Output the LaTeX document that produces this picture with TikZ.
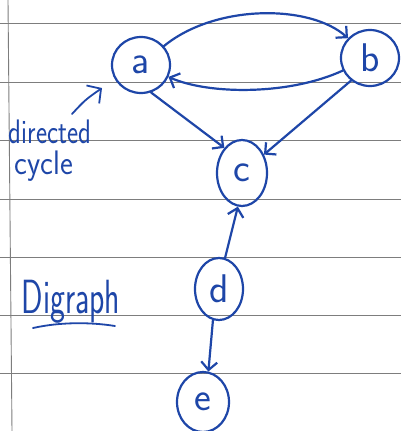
\documentclass[tikz,border=0pt]{standalone}
\usepackage{graphicx}
\usetikzlibrary{shapes.geometric,arrows.meta}
\definecolor{ink}{RGB}{30,70,168}
\definecolor{rulegray}{RGB}{125,125,125}
\begin{document}
\begin{tikzpicture}[x=1pt,y=-1pt,
  vert/.style={draw=ink, ellipse, line width=2.2pt, inner sep=0pt, text=ink,
    font=\sffamily\fontsize{40}{40}\selectfont},
  arc/.style={draw=ink, line width=2.2pt, line cap=round,
    -{Straight Barb[length=8pt,width=16pt]}},
  note/.style={text=ink, inner sep=0pt, anchor=base, font=\sffamily\fontsize{34}{34}\selectfont},
  ruling/.style={draw=rulegray, line width=0.9pt}]
\useasboundingbox (0,0) rectangle (401,431);
\fill[white] (0,0) rectangle (401,431);

% ruled paper
\foreach \yy in {23,82,140,199,257,315,373}
  \draw[ruling] (0,\yy) -- (401,\yy);
\draw[ruling] (8,0) -- (12,431);

% vertices
\node[vert, minimum width=58pt, minimum height=56pt] (a) at (141,65) {a};
\node[vert, minimum width=58pt, minimum height=56pt] (b) at (370,58) {b};
\node[vert, minimum width=50pt, minimum height=66pt] (c) at (242,173) {c};
\node[vert, minimum width=48pt, minimum height=62pt] (d) at (219,289) {d};
\node[vert, minimum width=52pt, minimum height=60pt] (e) at (203,402) {e};

% arcs
\draw[arc] (a) .. controls (215,4) and (310,4) .. (b);
\draw[arc] (b) .. controls (290,95) and (210,95) .. (a);
\draw[arc] (a.-70) -- (c.125);
\draw[arc] (b.-130) -- (c.40);
\draw[arc] (d.79) -- (c.-97);
\draw[arc] (d.-101) -- (e.80);

% annotations
\node[note] (dir) at (50,143) {\scalebox{0.78}[1]{directed}};
\node[note] (cyc) at (44,174) {\scalebox{0.9}[1]{cycle}};
\coordinate (cstart) at (72,114);
\coordinate (cend) at (102,88);
\draw[arc, line width=1.8pt, -{Straight Barb[length=10pt,width=22pt]}]
  (cstart) .. controls (85,100) .. (cend);

\node[note, font=\sffamily\fontsize{48}{48}\selectfont] (dg) at (71,313)
  {\scalebox{0.66}[1]{Digraph}};
\coordinate (ul1) at (33,328);
\coordinate (ul2) at (115,326);
\draw[draw=ink, line width=1.8pt, line cap=round] (ul1) .. controls (60,322) and (90,322) .. (ul2);
\end{tikzpicture}
\end{document}
